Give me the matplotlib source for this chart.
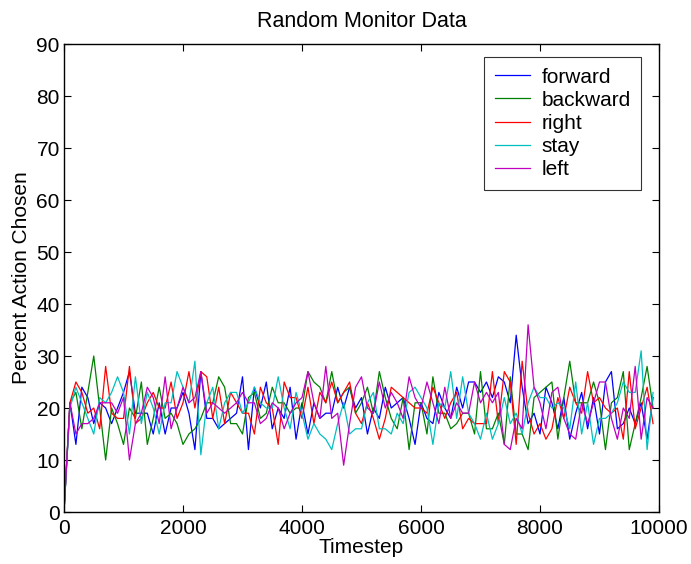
import numpy as np
import matplotlib
matplotlib.use("Agg")
import matplotlib.pyplot as plt

plt.rcParams['font.family'] = ['Liberation Sans', 'DejaVu Sans']

timesteps = list(range(0, 10000, 100))

forward = [0, 21, 13, 24, 22, 17, 21, 20, 17, 20, 23, 27, 19, 19, 19, 15, 21, 15,
           20, 20, 23, 19, 12, 27, 18, 18, 16, 17, 18, 19, 26, 12, 24, 20, 25,
           16, 20, 18, 24, 14, 21, 15, 21, 18, 19, 19, 24, 20, 24, 20, 22, 15, 20,
           18, 24, 20, 21, 22, 18, 13, 21, 18, 17, 23, 20, 18, 24, 20, 25, 25,
           23, 25, 22, 26, 25, 21, 34, 24, 17, 19, 15, 24, 21, 16, 22, 14, 19, 23,
           16, 22, 15, 25, 27, 16, 17, 20, 17, 21, 14, 22]

backward = [0, 21, 23, 16, 23, 30, 20, 10, 20, 17, 13, 20, 18, 25, 13, 18, 24, 18,
            19, 17, 13, 15, 16, 18, 21, 21, 26, 24, 17, 17, 15, 22, 23, 18, 19,
            24, 21, 21, 19, 20, 20, 27, 25, 24, 21, 27, 21, 23, 24, 19, 21, 24, 19,
            27, 22, 18, 16, 22, 12, 21, 21, 15, 26, 19, 19, 16, 17, 19, 19, 15,
            27, 16, 16, 19, 13, 26, 15, 15, 12, 22, 23, 24, 25, 14, 22, 29, 21, 21,
            21, 25, 21, 12, 21, 22, 27, 12, 17, 22, 28, 20]

right = [0, 21, 25, 23, 19, 20, 16, 28, 19, 18, 18, 28, 17, 18, 21, 23, 20, 20,
         25, 18, 21, 27, 20, 27, 26, 18, 24, 17, 23, 21, 19, 19, 15, 24, 21,
         20, 13, 25, 22, 22, 18, 24, 17, 23, 21, 25, 21, 23, 25, 19, 17, 21, 18,
         14, 18, 24, 23, 22, 21, 20, 20, 19, 24, 21, 18, 21, 23, 16, 18, 17,
         17, 17, 27, 17, 27, 25, 13, 29, 19, 15, 17, 14, 16, 22, 18, 24, 21, 19,
         27, 21, 22, 20, 19, 20, 14, 27, 16, 20, 24, 17]

stay = [0, 20, 24, 21, 18, 15, 22, 21, 23, 26, 23, 15, 26, 17, 23, 20, 15, 21,
        21, 27, 24, 21, 29, 11, 21, 24, 16, 21, 23, 23, 19, 21, 24, 21, 20,
        20, 26, 20, 16, 23, 19, 14, 17, 15, 14, 12, 17, 21, 15, 16, 16, 21, 23,
        16, 16, 15, 19, 17, 23, 24, 22, 20, 13, 21, 20, 27, 18, 26, 19, 17,
        14, 19, 14, 17, 22, 17, 19, 15, 21, 24, 22, 22, 20, 21, 20, 16, 25, 15,
        21, 13, 18, 18, 19, 21, 25, 23, 23, 31, 12, 23]

left = [0, 21, 15, 17, 17, 18, 21, 21, 21, 19, 22, 10, 17, 19, 24, 22, 17, 26,
        16, 20, 24, 21, 22, 27, 19, 21, 20, 19, 20, 21, 23, 21, 21, 17, 18,
        21, 20, 16, 19, 21, 22, 27, 21, 18, 28, 18, 19, 9, 17, 24, 26, 20, 19,
        25, 20, 23, 21, 18, 26, 22, 20, 25, 21, 17, 24, 18, 21, 19, 19, 25,
        21, 23, 21, 23, 13, 12, 18, 16, 36, 24, 21, 16, 23, 24, 18, 15, 14, 21,
        17, 21, 25, 25, 18, 14, 20, 18, 28, 14, 22, 20]

series_names = ['forward', 'backward', 'right', 'stay', 'left']
series_colors = ['#0000ff', '#008000', '#ff0000', '#00bfbf', '#bf00bf']

fig = plt.figure(figsize=(6.91, 5.64), dpi=100)
ax = fig.add_axes([64 / 691, 52 / 564, 595 / 691, 468 / 564])

for name, vals, col in zip(series_names, [forward, backward, right, stay, left], series_colors):
    ax.plot(timesteps, vals, color=col, linewidth=0.9, label=name)

ax.set_xlim(0, 10000)
ax.set_ylim(0, 90)
ax.set_xticks([0, 2000, 4000, 6000, 8000, 10000])
ax.set_yticks(list(range(0, 91, 10)))
ax.tick_params(direction='in', length=5, width=0.8, top=True, right=True,
               labelsize=15)
ax.tick_params(axis='x', pad=5)
ax.tick_params(axis='y', pad=3)
for sp in ax.spines.values():
    sp.set_linewidth(1.0)

ax.set_title('Random Monitor Data', fontsize=15.5, pad=12)
ax.set_xlabel('Timestep', fontsize=15, labelpad=0)
ax.set_ylabel('Percent Action Chosen', fontsize=15, labelpad=4)

leg = ax.legend(loc='upper right', bbox_to_anchor=(0.970, 0.972), borderaxespad=0,
                fontsize=15, frameon=True, fancybox=False, handlelength=1.7,
                handletextpad=0.55, labelspacing=0.2, borderpad=0.5)
leg.get_frame().set_edgecolor('black')
leg.get_frame().set_linewidth(0.8)

fig.savefig('out.png', dpi=100)
